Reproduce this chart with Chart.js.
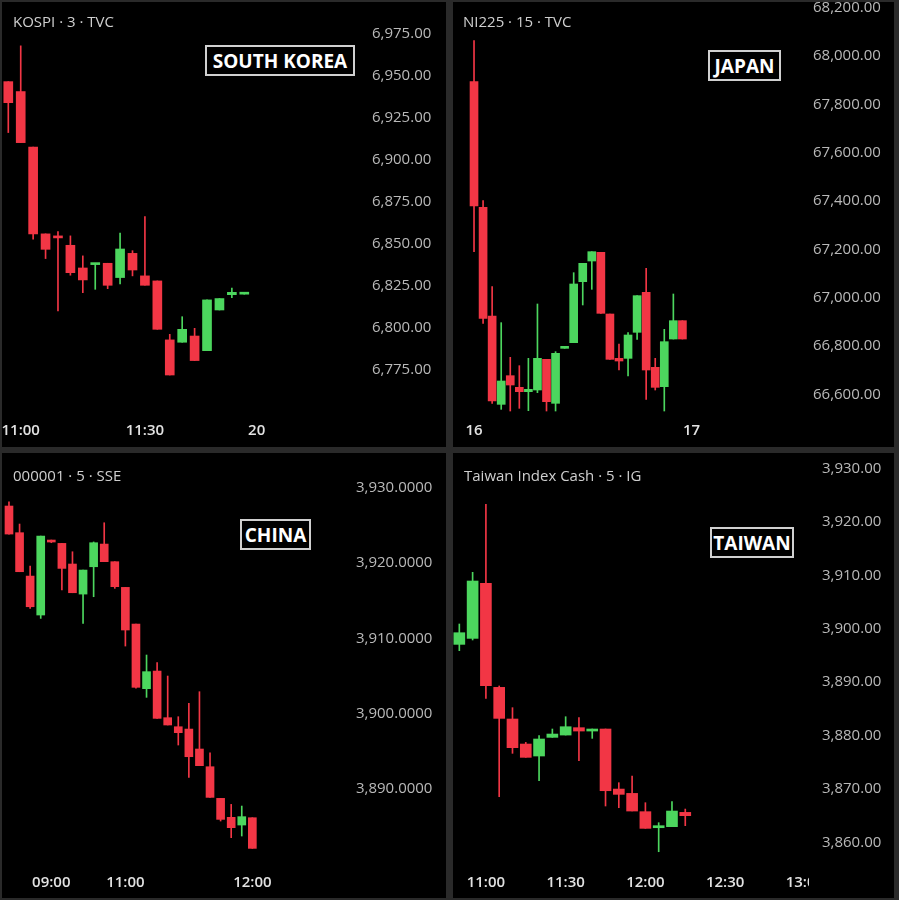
<!DOCTYPE html>
<html>
<head>
<meta charset="utf-8">
<script src="https://cdn.jsdelivr.net/npm/chart.js@4.4.1/dist/chart.umd.min.js"></script>
<style>
  body { margin: 0; background: #2a2a2a; width: 899px; height: 900px; overflow: hidden; position: relative; font-family: "Open Sans", sans-serif; }
  canvas { position: absolute; background: #000; }
  .title { position: absolute; color: #cfcfcf; font-size: 15px; line-height: 20px; white-space: nowrap; }
  .tag { position: absolute; box-sizing: border-box; border: 2px solid #d0d0d0; background: #000; color: #fff;
         font-weight: 700; font-size: 19px; display: flex; align-items: center; justify-content: center; white-space: nowrap; }
</style>
</head>
<body>
<canvas id="kr" width="444" height="445" style="left:2px;top:2px"></canvas>
<canvas id="jp" width="441" height="445" style="left:453px;top:2px"></canvas>
<canvas id="cn" width="444" height="445" style="left:2px;top:453px"></canvas>
<canvas id="tw" width="441" height="445" style="left:453px;top:453px"></canvas>

<div class="title" style="left:13px;top:11px">KOSPI · 3 · TVC</div>
<div class="title" style="left:463px;top:11px">NI225 · 15 · TVC</div>
<div class="title" style="left:13px;top:465px">000001 · 5 · SSE</div>
<div class="title" style="left:464px;top:465px">Taiwan Index Cash · 5 · IG</div>

<div class="tag" style="left:205px;top:45px;width:150px;height:31px">SOUTH KOREA</div>
<div class="tag" style="left:708px;top:50px;width:73px;height:31px">JAPAN</div>
<div class="tag" style="left:240px;top:519px;width:71px;height:31px">CHINA</div>
<div class="tag" style="left:710px;top:527px;width:84px;height:31px">TAIWAN</div>

<script>
// KOSPI, 3 min
const krOpen  = [6946.2, 6940.3, 6907.3, 6855.6, 6854.4, 6848.8, 6835.3, 6837.3, 6838.1, 6829.6, 6844.0, 6830.6, 6827.6, 6792.5, 6791.1, 6794.8, 6786.1, 6810.3, 6819.4, 6819.7];
const krHigh  = [6946.2, 6967.5, 6907.3, 6855.6, 6856.9, 6854.4, 6842.5, 6838.1, 6838.1, 6856.0, 6845.6, 6865.9, 6827.6, 6795.8, 6806.3, 6799.4, 6816.3, 6817.1, 6823.3, 6819.7];
const krLow   = [6915.9, 6909.9, 6852.4, 6840.9, 6809.7, 6831.0, 6820.6, 6822.6, 6823.0, 6825.8, 6830.6, 6825.0, 6798.8, 6771.6, 6791.1, 6780.2, 6786.1, 6810.3, 6817.6, 6819.7];
const krClose = [6933.7, 6909.9, 6855.6, 6846.4, 6853.2, 6832.5, 6828.2, 6838.1, 6825.0, 6846.6, 6834.1, 6825.0, 6798.8, 6771.6, 6798.8, 6780.2, 6816.3, 6817.1, 6820.8, 6819.7];
const krPriceTicks = [6775, 6800, 6825, 6850, 6875, 6900, 6925, 6950, 6975];
const krTimeAt = [1, 11, 20];
const krTimeText = ['11:00', '11:30', '20'];

// NI225, 15 min
const jpOpen  = [67893.8, 67373.8, 66924.1, 66558.6, 66677.2, 66628.9, 66611.0, 66617.9, 66744.8, 66562.8, 66790.3, 66813.8, 67066.2, 67151.7, 67187.6, 66932.4, 66748.9, 66748.9, 66856.6, 67022.1, 66711.7, 66631.7, 66828.9, 66904.8];
const jpHigh  = [68063.4, 67401.4, 67045.5, 66896.6, 66753.1, 66718.6, 66748.9, 66973.8, 66744.8, 66776.6, 66790.3, 67103.4, 67142.1, 67190.3, 67187.6, 66932.4, 66808.3, 66855.2, 67008.3, 67121.4, 66748.9, 66868.9, 67015.2, 66904.8];
const jpLow   = [67190.3, 66893.8, 66562.8, 66537.9, 66531.0, 66542.1, 66532.4, 66606.9, 66531.0, 66531.0, 66790.3, 66813.8, 66969.7, 67034.5, 66935.2, 66744.8, 66700.7, 66675.9, 66827.6, 66579.3, 66617.9, 66531.0, 66828.9, 66828.9];
const jpClose = [67379.3, 66914.5, 66572.4, 66655.2, 66638.6, 66611.0, 66620.7, 66748.9, 66569.7, 66769.7, 66790.3, 67056.6, 67142.1, 67190.3, 66935.2, 66744.8, 66737.9, 66845.5, 67008.3, 66700.7, 66628.9, 66817.9, 66904.8, 66828.9];
const jpPriceTicks = [66600, 66800, 67000, 67200, 67400, 67600, 67800, 68000, 68200];
const jpTimeAt = [0, 24];
const jpTimeText = ['16', '17'];

// SSE composite, 5 min
const cnOpen  = [3927.57, 3924.03, 3918.27, 3913.10, 3922.96, 3922.61, 3919.87, 3915.88, 3919.51, 3922.52, 3920.18, 3916.77, 3911.90, 3903.32, 3905.66, 3899.47, 3898.27, 3897.96, 3895.31, 3892.96, 3888.76, 3886.24, 3885.22, 3886.19];
const cnHigh  = [3928.14, 3925.18, 3919.60, 3923.58, 3923.05, 3922.61, 3921.50, 3919.07, 3922.80, 3925.35, 3920.18, 3916.77, 3911.90, 3907.79, 3906.77, 3905.00, 3899.60, 3901.37, 3902.92, 3894.82, 3888.76, 3887.96, 3887.74, 3886.19];
const cnLow   = [3923.85, 3918.85, 3913.98, 3912.65, 3922.70, 3916.42, 3916.06, 3912.00, 3915.53, 3920.18, 3916.64, 3908.98, 3903.40, 3902.17, 3899.38, 3898.50, 3895.84, 3891.55, 3893.10, 3888.89, 3885.75, 3883.54, 3883.76, 3882.12];
const cnClose = [3923.85, 3918.85, 3914.20, 3923.58, 3922.79, 3919.29, 3916.06, 3919.07, 3922.70, 3920.18, 3916.86, 3911.11, 3903.50, 3905.58, 3899.38, 3898.50, 3897.48, 3894.29, 3893.10, 3888.89, 3885.97, 3884.87, 3886.33, 3882.12];
const cnPriceTicks = [3890, 3900, 3910, 3920, 3930];
const cnTimeAt = [4, 11, 23];
const cnTimeText = ['09:00', '11:00', '12:00'];

// Taiwan Index Cash, 5 min
const twOpen  = [3897.08, 3898.20, 3908.49, 3889.04, 3883.12, 3878.44, 3876.20, 3879.69, 3880.12, 3881.50, 3880.87, 3881.25, 3870.02, 3869.21, 3865.79, 3862.79, 3862.98, 3865.66];
const twHigh  = [3900.89, 3910.55, 3923.27, 3889.30, 3885.24, 3878.75, 3880.00, 3881.25, 3883.55, 3883.37, 3881.25, 3881.25, 3871.21, 3872.46, 3867.47, 3863.73, 3867.66, 3866.28];
const twLow   = [3895.90, 3897.90, 3886.98, 3868.59, 3876.70, 3875.95, 3871.58, 3879.69, 3880.12, 3875.32, 3879.50, 3866.85, 3866.53, 3865.91, 3862.67, 3858.30, 3862.98, 3863.17];
const twClose = [3899.26, 3908.93, 3889.35, 3883.24, 3877.76, 3875.95, 3879.38, 3880.31, 3881.68, 3880.87, 3881.25, 3869.71, 3869.03, 3865.91, 3862.67, 3863.17, 3865.91, 3865.04];
const twPriceTicks = [3860, 3870, 3880, 3890, 3900, 3910, 3920, 3930];
const twTimeAt = [2, 8, 14, 20, 26];
const twTimeText = ['11:00', '11:30', '12:00', '12:30', '13:00'];

const UP = '#4cd65e';
const DOWN = '#f23645';

// time labels stop at the price axis, like the original
const cornerMask = {
    id: 'cornerMask',
    afterDraw(chart) {
        const { ctx, chartArea: a, width, height } = chart;
        ctx.save();
        ctx.fillStyle = '#000';
        ctx.fillRect(a.right, a.bottom, width - a.right, height - a.bottom);
        ctx.restore();
    }
};

function candleChart(id, o, h, l, c, priceTicks, decimals, timeAt, timeText, lay) {
    const idx = o.map((_, i) => i);
    const colors = idx.map(i => c[i] >= o[i] ? UP : DOWN);
    return new Chart(document.getElementById(id), {
        type: 'bar',
        data: {
            datasets: [
                {   // bodies
                    data: idx.map(i => ({ x: i, y: [o[i], c[i]] })),
                    backgroundColor: colors,
                    barThickness: lay.body,
                    minBarLength: 2,
                    grouped: false
                },
                {   // wicks
                    data: idx.map(i => ({ x: i, y: [l[i], h[i]] })),
                    backgroundColor: colors,
                    barThickness: 1,
                    grouped: false
                }
            ]
        },
        options: {
            responsive: false,
            animation: false,
            layout: { padding: 0 },
            plugins: { legend: { display: false }, tooltip: { enabled: false } },
            scales: {
                x: {
                    type: 'linear',
                    offset: false,
                    min: lay.xMin,
                    max: lay.xMax,
                    grid: { display: false, drawTicks: false },
                    border: { display: false },
                    ticks: {
                        autoSkip: false,
                        maxRotation: 0,
                        padding: lay.xPad,
                        color: '#e2e2e2',
                        font: { family: 'Open Sans', size: 15, weight: '600' },
                        callback: v => timeText[timeAt.indexOf(v)] ?? ''
                    },
                    afterBuildTicks: axis => { axis.ticks = timeAt.map(v => ({ value: v })); },
                    afterFit: axis => { axis.height = lay.xH; axis.paddingLeft = 0; axis.paddingRight = 0; }
                },
                y: {
                    position: 'right',
                    beginAtZero: false,
                    min: lay.yMin,
                    max: lay.yMax,
                    grid: { display: false, drawTicks: false },
                    border: { display: false },
                    ticks: {
                        autoSkip: false,
                        padding: lay.yPad,
                        color: '#b9b9b9',
                        font: { family: 'Open Sans', size: 15 },
                        callback: v => v.toLocaleString('en-US', { minimumFractionDigits: decimals, maximumFractionDigits: decimals })
                    },
                    afterBuildTicks: axis => { axis.ticks = priceTicks.map(v => ({ value: v })); },
                    afterFit: axis => { axis.width = lay.yW; axis.paddingTop = 0; axis.paddingBottom = 0; }
                }
            }
        },
        plugins: [cornerMask]
    });
}

candleChart('kr', krOpen, krHigh, krLow, krClose, krPriceTicks, 2, krTimeAt, krTimeText,
    { xMin: -0.507, xMax: 28.478, yMin: 6747.8, yMax: 6993.6, yW: 84, yPad: 10, xH: 32, xPad: 7, body: 9 });
candleChart('jp', jpOpen, jpHigh, jpLow, jpClose, jpPriceTicks, 2, jpTimeAt, jpTimeText,
    { xMin: -2.32, xMax: 36.53, yMin: 66514.5, yMax: 68223.4, yW: 89, yPad: 8, xH: 32, xPad: 7, body: 8 });
candleChart('cn', cnOpen, cnHigh, cnLow, cnClose, cnPriceTicks, 4, cnTimeAt, cnTimeText,
    { xMin: -0.66, xMax: 32.04, yMin: 3879.78, yMax: 3934.61, yW: 98, yPad: 8, xH: 32, xPad: 8, body: 8 });
candleChart('tw', twOpen, twHigh, twLow, twClose, twPriceTicks, 2, twTimeAt, twTimeText,
    { xMin: -0.476, xMax: 26.31, yMin: 3855.63, yMax: 3932.87, yW: 85, yPad: 13, xH: 32, xPad: 8, body: 11 });
</script>
</body>
</html>
